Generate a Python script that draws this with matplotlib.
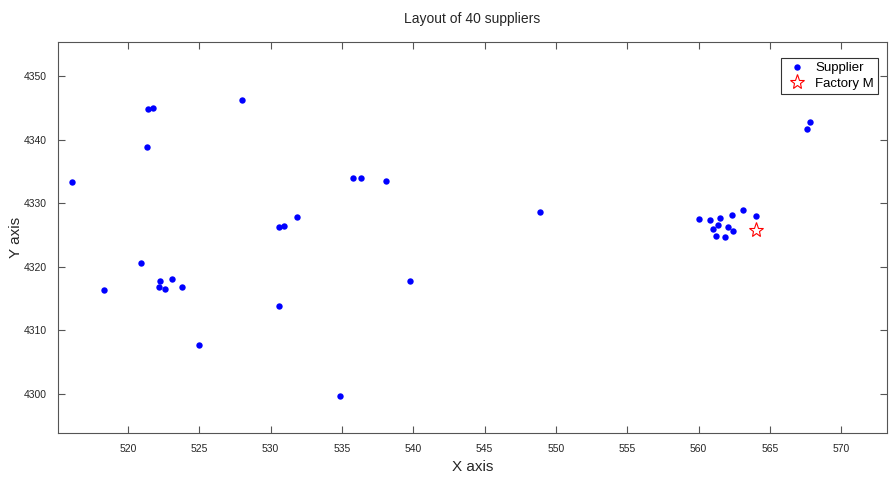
import matplotlib.pyplot as plt

plt.rcParams['font.family'] = ['Liberation Sans', 'DejaVu Sans']

# supplier coordinates
supplier_x = [516.1, 521.43, 521.78, 521.36, 528.02,
              518.3, 520.91, 522.22, 522.17, 522.6, 523.06, 523.78, 524.98,
              530.56, 530.93, 531.82, 530.58,
              535.77, 536.36, 538.08, 548.87, 539.76, 534.86,
              559.99, 560.78, 561.51, 562.33, 563.12, 564.0,
              561.32, 561.02, 562.05, 561.2, 561.81, 562.4,
              567.79, 567.61]
supplier_y = [4333.3, 4344.8, 4345.0, 4338.9, 4346.3,
              4316.4, 4320.6, 4317.7, 4316.8, 4316.5, 4318.1, 4316.8, 4307.7,
              4326.2, 4326.4, 4327.8, 4313.8,
              4334.0, 4333.9, 4333.5, 4328.6, 4317.7, 4299.7,
              4327.5, 4327.3, 4327.6, 4328.1, 4328.85, 4328.0,
              4326.6, 4326.0, 4326.3, 4324.8, 4324.7, 4325.6,
              4342.7, 4341.7]

factory_x = [564.03]
factory_y = [4325.8]

xticks = [520, 525, 530, 535, 540, 545, 550, 555, 560, 565, 570]
yticks = [4300, 4310, 4320, 4330, 4340, 4350]

fig = plt.figure(figsize=(8.89, 4.78), dpi=100)
ax = fig.add_axes([0.0652, 0.0935, 0.9326, 0.818])

ax.plot(supplier_x, supplier_y, 'o', color='#0000ff', markersize=4.6,
        markeredgewidth=0, label='Supplier')
ax.plot(factory_x, factory_y, '*', color='#ff0000', markerfacecolor='none',
        markersize=11, markeredgewidth=0.8, label='Factory M')

ax.set_xlim(515.1, 573.2)
ax.set_ylim(4293.8, 4355.3)
ax.set_xticks(xticks)
ax.set_yticks(yticks)

# MATLAB look: inward ticks on all four sides, grey box
grey = '#262626'
for s in ax.spines.values():
    s.set_color('#555555')
    s.set_linewidth(0.8)
ax.tick_params(direction='in', top=True, right=True, length=5, width=0.8,
               color='#555555', labelsize=7.5, labelcolor=grey, pad=8)

ax.set_xlabel('X axis', fontsize=11, color=grey, labelpad=4)
ax.set_ylabel('Y axis', fontsize=11, color=grey)
ax.yaxis.set_label_coords(-0.042, 0.5)
ax.set_title('Layout of 40 suppliers', fontsize=10, color=grey, pad=14)

leg = ax.legend(loc='upper right', bbox_to_anchor=(0.989, 0.960),
                borderaxespad=0, fontsize=9.5, fancybox=False, framealpha=1,
                borderpad=0.3, handletextpad=0.5, labelspacing=0.25,
                handlelength=1.8)
leg.get_frame().set_edgecolor('#333333')
leg.get_frame().set_linewidth(0.8)

plt.savefig('out.png', dpi=100)
